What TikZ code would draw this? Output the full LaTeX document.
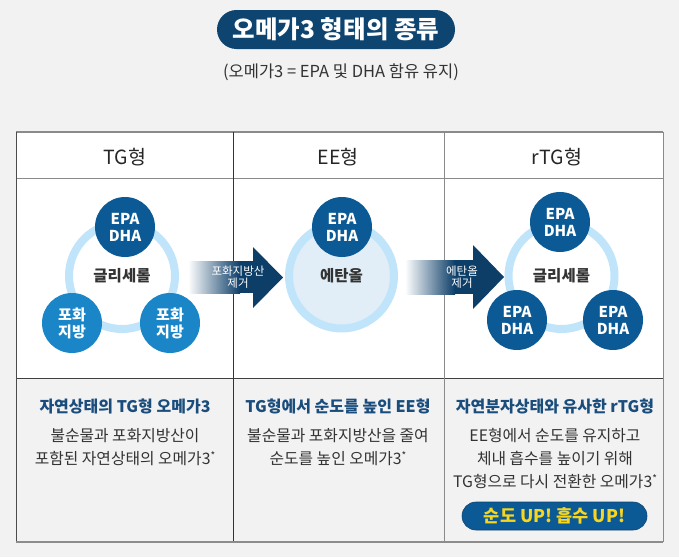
\documentclass[tikz,border=0pt]{standalone}
\usepackage{fontspec}
\setmainfont{Noto Sans CJK KR}
\definecolor{bg}{HTML}{F2F2F2}
\definecolor{navy}{HTML}{0E4470}
\definecolor{dblue}{HTML}{0B5A96}
\definecolor{bblue}{HTML}{1A86C8}
\definecolor{ringblue}{HTML}{C0E5FB}
\definecolor{eefill}{HTML}{E1EEF7}
\definecolor{arrownavy}{HTML}{0C3E68}
\definecolor{txt}{HTML}{333333}
\definecolor{ttl}{HTML}{1A4D7C}
\definecolor{yel}{HTML}{F8D51E}
\definecolor{rule}{HTML}{8A8A8A}
\newcommand{\fs}[2]{\fontsize{#1}{#2}\selectfont}
\newcommand{\myast}{\raisebox{5pt}{\fs{10}{10}*}}
\begin{document}
\begin{tikzpicture}[x=1pt,y=-1pt,
  titlebox/.style={fill=navy, text=white, rounded corners=19.5pt, minimum width=238pt, minimum height=39pt, inner sep=0pt, font=\bfseries\fs{24.5}{28}},
  subt/.style={text=txt, font=\fs{16.5}{19}, inner sep=0pt},
  head/.style={text=black!85, font=\fs{19.5}{22}, inner sep=0pt},
  dcirc/.style={circle, fill=dblue, text=white, minimum size=60pt, inner sep=0pt, align=center, font=\bfseries\fs{15}{17}},
  bcirc/.style={dcirc, fill=bblue},
  ringc/.style={circle, draw=ringblue, line width=8pt, minimum size=106pt, inner sep=0pt, text=txt, font=\bfseries\fs{15.5}{17}},
  eec/.style={ringc, fill=eefill, minimum size=105pt},
  arrtxt/.style={text=white, align=center, font=\fs{11.5}{12}, inner sep=0pt},
  btitle/.style={text=ttl, font=\bfseries\fs{16}{18}, inner sep=0pt},
  bbody/.style={text=txt, align=center, font=\fs{15.8}{23}, inner sep=0pt},
  pill/.style={fill=dblue, draw=navy, line width=0.6pt, rounded corners=14pt, minimum width=185pt, minimum height=28pt, inner sep=0pt, text=yel, font=\bfseries\fs{17.5}{20}}
]
\useasboundingbox (0,0) rectangle (679,557);
\fill[bg] (0,0) rectangle (679,557);

% title
\node[titlebox] (title) at (336,29.5) {오메가3 형태의 종류};
\node[subt] (sub) at (341,72) {(오메가3 = EPA 및 DHA 함유 유지)};

% table
\fill[white] (16,132) rectangle (663,378);
\fill[bg] (16,378) rectangle (663,542);
\draw[rule, line width=1.5pt] (16,132) -- (663,132);
\draw[rule, line width=1pt] (16,178) -- (663,178);
\draw[black!75, line width=0.8pt] (16,378) -- (663,378);
\draw[black!70, line width=0.8pt] (16,132) -- (16,542);
\draw[rule, line width=1pt] (663,132) -- (663,542);
\draw[black!80, line width=0.7pt] (233,132) -- (233,542);
\draw[rule, line width=1pt] (444,132) -- (444,542);
\draw[black!45, line width=2pt] (16,542) -- (663,542);

% headers
\node[head] (h1) at (125,157) {TG형};
\node[head] (h2) at (338,157) {EE형};
\node[head] (h3) at (557,157) {rTG형};

% column 1
\node[ringc] (g1) at (122,276) {글리세롤};
\node[dcirc] (e1) at (125,227) {EPA\\DHA};
\node[bcirc] (f1) at (72,323) {포화\\지방};
\node[bcirc] (f2) at (170,323) {포화\\지방};

% column 2
\node[eec] (ee) at (341.5,276) {에탄올};
\node[dcirc] (e2) at (342,227) {EPA\\DHA};

% column 3
\node[ringc] (g3) at (561.5,276) {글리세롤};
\node[dcirc] (e3) at (560,222) {EPA\\DHA};
\node[dcirc] (e4) at (517,320) {EPA\\DHA};
\node[dcirc] (e5) at (613,320) {EPA\\DHA};

% arrow 1
\shade[left color=white, right color=arrownavy] (188,261) rectangle (240,293);
\fill[arrownavy] (239.5,261) rectangle (254,293);
\fill[arrownavy] (253,247) -- (283,277.5) -- (253,308) -- cycle;
\node[arrtxt] (a1) at (238,277) {포화지방산\\제거};

% arrow 2
\shade[left color=white, right color=arrownavy] (405,260) rectangle (455,294);
\fill[arrownavy] (454.5,260) rectangle (474,294);
\fill[arrownavy] (473,245) -- (504,277) -- (473,309) -- cycle;
\node[arrtxt] (a2) at (462,277) {에탄올\\제거};

% bottom texts
\node[btitle] (t1) at (125,406) {자연상태의 TG형 오메가3};
\node[bbody, anchor=north] (b1) at (125,428) {불순물과 포화지방산이\\포함된 자연상태의 오메가3\myast};
\node[btitle] (t2) at (338,406) {TG형에서 순도를 높인 EE형};
\node[bbody, anchor=north] (b2) at (338,428) {불순물과 포화지방산을 줄여\\순도를 높인 오메가3\myast};
\node[btitle] (t3) at (555,406) {자연분자상태와 유사한 rTG형};
\node[bbody, anchor=north] (b3) at (555,428) {EE형에서 순도를 유지하고\\체내 흡수를 높이기 위해\\TG형으로 다시 전환한 오메가3\myast};
\node[pill] (p) at (554.5,516) {순도 UP! 흡수 UP!};
\end{tikzpicture}
\end{document}
